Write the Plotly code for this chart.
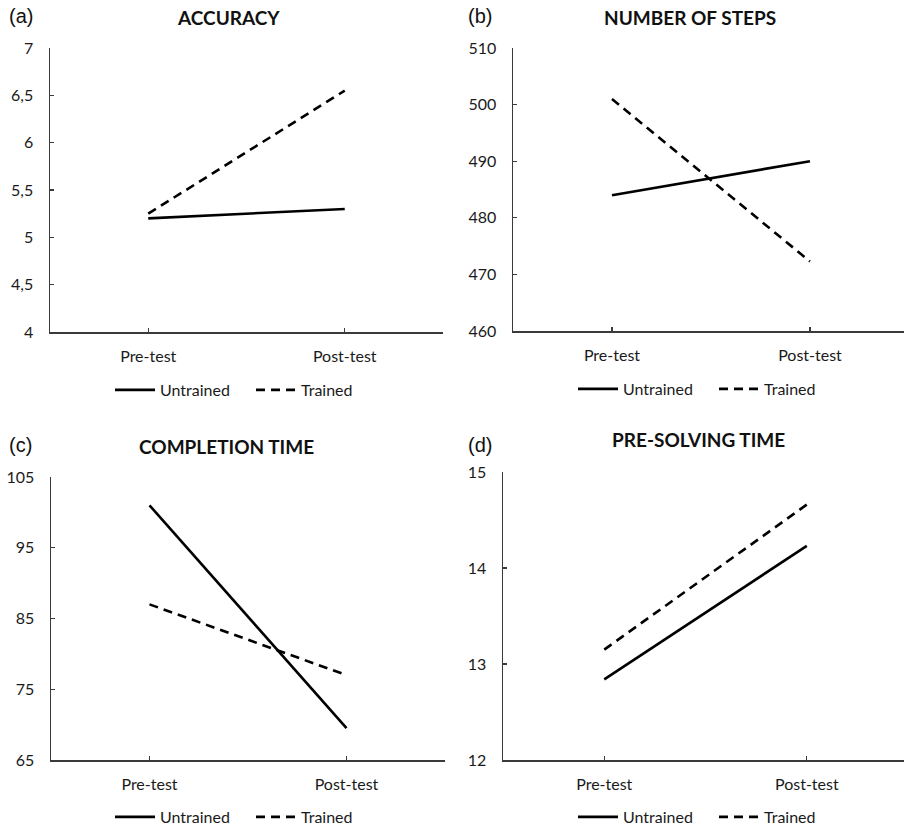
import plotly.graph_objects as go

categories = ["Pre-test", "Post-test"]
series_names = ["Untrained", "Trained"]

acc_untrained = [5.2, 5.3]
acc_trained = [5.25, 6.55]
steps_untrained = [484, 490]
steps_trained = [501, 472.3]
comp_untrained = [101, 69.5]
comp_trained = [87, 77]
pre_untrained = [12.84, 14.23]
pre_trained = [13.15, 14.66]

acc_ticks = [4, 4.5, 5, 5.5, 6, 6.5, 7]
acc_ticktext = ["4", "4,5", "5", "5,5", "6", "6,5", "7"]
steps_ticks = [460, 470, 480, 490, 500, 510]
comp_ticks = [65, 75, 85, 95, 105]
pre_ticks = [12, 13, 14, 15]

titles = ["ACCURACY", "NUMBER OF STEPS", "COMPLETION TIME", "PRE-SOLVING TIME"]
panel_labels = ["(a)", "(b)", "(c)", "(d)"]

W, H = 904, 827
def fx(p):
    return p / W
def fy(p):
    return 1 - p / H

FONT = "Lato"
AX = "#3a3a3a"
TXT = "#1a1a1a"

panels = [
    dict(l=50, r=443, t=48, b=332, xr=[-0.5, 1.5],
         u=acc_untrained, tr=acc_trained, ticks=acc_ticks, tt=acc_ticktext,
         title_xy=(228, 17), lab_xy=(7, 16), leg_x=110, leg_y=390),
    dict(l=513, r=904, t=48, b=331, xr=[-0.5, 1.475],
         u=steps_untrained, tr=steps_trained, ticks=steps_ticks, tt=[str(v) for v in steps_ticks],
         title_xy=(690, 17), lab_xy=(466, 16), leg_x=573, leg_y=389),
    dict(l=51, r=445, t=477, b=760, xr=[-0.5, 1.5],
         u=comp_untrained, tr=comp_trained, ticks=comp_ticks, tt=[str(v) for v in comp_ticks],
         title_xy=(227, 446), lab_xy=(7, 445), leg_x=110, leg_y=817),
    dict(l=503, r=904, t=472, b=760, xr=[-0.5, 1.48],
         u=pre_untrained, tr=pre_trained, ticks=pre_ticks, tt=[str(v) for v in pre_ticks],
         title_xy=(698, 439), lab_xy=(466, 445), leg_x=573, leg_y=817),
]

fig = go.Figure()
annotations = []
layout = {}
for i, p in enumerate(panels):
    n = "" if i == 0 else str(i + 1)
    leg = "legend" + n
    fig.add_trace(go.Scatter(x=categories, y=p["u"], mode="lines", name=series_names[0],
                             line=dict(color="black", width=2.6),
                             xaxis="x" + n, yaxis="y" + n, legend=leg))
    fig.add_trace(go.Scatter(x=categories, y=p["tr"], mode="lines", name=series_names[1],
                             line=dict(color="black", width=2.6, dash="9px,6px"),
                             xaxis="x" + n, yaxis="y" + n, legend=leg))
    layout["xaxis" + n] = dict(
        domain=[fx(p["l"]), min(1.0, fx(p["r"]))], anchor="y" + n, type="category",
        categoryorder="array", categoryarray=categories,
        range=p["xr"], showline=True, linecolor=AX, linewidth=1.5,
        ticks="inside", ticklen=4, tickcolor=AX, tickwidth=1.2,
        ticklabelstandoff=9,
        showgrid=False, zeroline=False, automargin=False,
        tickfont=dict(family=FONT, size=16, color=TXT), fixedrange=True)
    ymin, ymax = p["ticks"][0], p["ticks"][-1]
    layout["yaxis" + n] = dict(
        domain=[fy(p["b"]), fy(p["t"])], anchor="x" + n,
        range=[ymin, ymax], tickvals=p["ticks"], ticktext=p["tt"],
        showline=True, linecolor=AX, linewidth=1.5,
        ticks="inside", ticklen=4, tickcolor=AX, tickwidth=1.2,
        ticklabelstandoff=12,
        showgrid=False, zeroline=False, automargin=False,
        tickfont=dict(family=FONT, size=16, color=TXT), fixedrange=True)
    layout[leg] = dict(
        orientation="h", x=fx(p["leg_x"]), y=fy(p["leg_y"]),
        xanchor="left", yanchor="middle", itemwidth=40, entrywidth=86,
        font=dict(family=FONT, size=16, color=TXT), bgcolor="rgba(0,0,0,0)")
    annotations.append(dict(
        text="<b>" + titles[i] + "</b>", x=fx(p["title_xy"][0]), y=fy(p["title_xy"][1]),
        xref="paper", yref="paper", xanchor="center", yanchor="middle", showarrow=False,
        font=dict(family=FONT, size=19, color="#111111")))
    annotations.append(dict(
        text=panel_labels[i], x=fx(p["lab_xy"][0]), y=fy(p["lab_xy"][1]),
        xref="paper", yref="paper", xanchor="left", yanchor="middle", showarrow=False,
        font=dict(family="Liberation Sans", size=20, color="#111111")))

fig.update_layout(
    width=W, height=H, margin=dict(l=0, r=0, t=0, b=0, autoexpand=False),
    paper_bgcolor="white", plot_bgcolor="white", hovermode=False,
    annotations=annotations, **layout)

fig.write_html("out.html", config={"displayModeBar": False, "staticPlot": True},
               post_script="document.body.style.margin='0';")
